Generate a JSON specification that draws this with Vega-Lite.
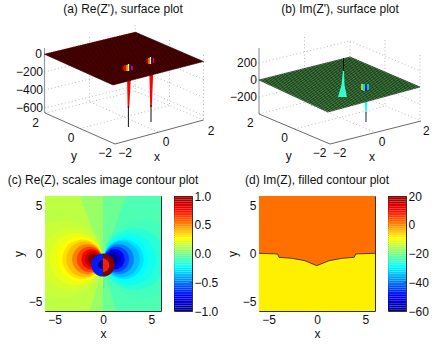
{"$schema":"https://vega.github.io/schema/vega-lite/v6.json","autosize":{"type":"none"},"padding":{"left":45,"top":25,"right":391,"bottom":322},"background":"white","bounds":"flush","columns":5,"spacing":{"row":46,"column":13},"resolve":{"scale":{"color":"independent","size":"independent","radius":"independent"}},"config":{"font":"Liberation Sans","view":{"stroke":null},"axis":{"labelFont":"Liberation Sans","labelFontSize":12,"labelColor":"#111","titleFont":"Liberation Sans","titleFontSize":12,"titleFontWeight":"normal","titleColor":"#111","grid":false,"domain":false,"tickColor":"#333","tickSize":-3,"labelPadding":6,"titlePadding":3,"labelFlush":false,"labelOverlap":false,"labelBound":false},"title":{"font":"Liberation Sans","fontSize":12,"fontWeight":"normal","color":"#111","offset":9,"anchor":"middle"}},"concat":[{"width":116,"height":125,"title":{"text":"(a) Re(Z'), surface plot","dx":20},"encoding":{"x":{"field":"u","type":"quantitative","axis":null,"scale":{"domain":[45,161],"nice":false,"zero":false}},"y":{"field":"v","type":"quantitative","axis":null,"scale":{"domain":[150,25],"nice":false,"zero":false}}},"layer":[{"mark":{"type":"rule","stroke":"#aaa","strokeWidth":0.8,"strokeDash":[1,2.5]},"data":{"values":[{"u":44.5,"v":72,"u2":135,"v2":50},{"u":44.5,"v":90,"u2":135,"v2":68},{"u":44.5,"v":108,"u2":135,"v2":86},{"u":45,"v":113,"u2":135,"v2":91},{"u":135,"v":50,"u2":203.5,"v2":79.5},{"u":135,"v":68,"u2":203.5,"v2":97.5},{"u":135,"v":86,"u2":203.5,"v2":115.5},{"u":135,"v":91,"u2":203.5,"v2":120},{"u":135,"v":25,"u2":135,"v2":91},{"u":89.5,"v":37,"u2":89.5,"v2":102},{"u":203.5,"v":55,"u2":203.5,"v2":120},{"u":169.5,"v":40,"u2":169.5,"v2":105.5},{"u":90,"v":102,"u2":158,"v2":132},{"u":80,"v":128.5,"u2":169.5,"v2":105.5}]},"encoding":{"x2":{"field":"u2"},"y2":{"field":"v2"}}},{"mark":{"type":"rule","stroke":"#999","strokeWidth":1.2},"data":{"values":[{"u":44.5,"v":48,"u2":44.5,"v2":113}]},"encoding":{"x2":{"field":"u2"},"y2":{"field":"v2"}}},{"mark":{"type":"rule","stroke":"#444","strokeWidth":0.8},"data":{"values":[{"u":45,"v":113,"u2":115,"v2":144},{"u":115,"v":144,"u2":203.5,"v2":120}]},"encoding":{"x2":{"field":"u2"},"y2":{"field":"v2"}}},{"mark":{"type":"area","orient":"horizontal","line":false},"data":{"values":[{"s":"p1","v":75,"uL":127,"uR":131,"l":0.75},{"s":"p1","v":108,"uL":127.7,"uR":129.2,"l":0.75},{"s":"p2","v":70,"uL":149.3,"uR":153.3,"l":0.75},{"s":"p2","v":107,"uL":150.2,"uR":151.8,"l":0.75}]},"encoding":{"x":{"field":"uL","type":"quantitative","axis":null,"scale":{"domain":[45,161],"nice":false,"zero":false}},"x2":{"field":"uR"},"y":{"field":"v","type":"quantitative","axis":null,"scale":{"domain":[150,25],"nice":false,"zero":false}},"detail":{"field":"s"},"color":{"field":"l","type":"quantitative","legend":null,"scale":{"domain":[-1,-0.75,-0.25,0.25,0.75,1],"range":["#00008f","#0000ff","#00ffff","#ffff00","#ff0000","#800000"],"interpolate":"rgb"}}}},{"mark":{"type":"rule","stroke":"#111","strokeWidth":1},"data":{"values":[{"u":128.4,"v":106,"u2":128.4,"v2":127},{"u":151,"v":105,"u2":151,"v2":122}]},"encoding":{"x2":{"field":"u2"},"y2":{"field":"v2"}}},{"mark":{"type":"area","fill":"#a00000"},"data":{"values":[{"u":44,"v":54,"v2":54},{"u":113,"v":37.3,"v2":85},{"u":135,"v":32,"v2":79.3},{"u":203.5,"v":61.5,"v2":61.5}]},"encoding":{"y2":{"field":"v2"}}},{"mark":{"type":"rule","stroke":"#000","strokeWidth":0.5},"data":{"values":[{"u":44.0,"v":54.0,"u2":113.0,"v2":85.0},{"u":46.3,"v":53.5,"u2":115.3,"v2":84.4},{"u":48.6,"v":52.9,"u2":117.5,"v2":83.8},{"u":50.8,"v":52.4,"u2":119.8,"v2":83.2},{"u":53.1,"v":51.8,"u2":122.1,"v2":82.7},{"u":55.4,"v":51.3,"u2":124.3,"v2":82.1},{"u":57.7,"v":50.7,"u2":126.6,"v2":81.5},{"u":59.9,"v":50.2,"u2":128.8,"v2":80.9},{"u":62.2,"v":49.6,"u2":131.1,"v2":80.3},{"u":64.5,"v":49.1,"u2":133.4,"v2":79.7},{"u":66.8,"v":48.5,"u2":135.6,"v2":79.1},{"u":69.0,"v":48.0,"u2":137.9,"v2":78.5},{"u":71.3,"v":47.4,"u2":140.2,"v2":78.0},{"u":73.6,"v":46.9,"u2":142.4,"v2":77.4},{"u":75.9,"v":46.3,"u2":144.7,"v2":76.8},{"u":78.1,"v":45.8,"u2":146.9,"v2":76.2},{"u":80.4,"v":45.2,"u2":149.2,"v2":75.6},{"u":82.7,"v":44.7,"u2":151.5,"v2":75.0},{"u":85.0,"v":44.1,"u2":153.7,"v2":74.4},{"u":87.2,"v":43.6,"u2":156.0,"v2":73.8},{"u":89.5,"v":43.0,"u2":158.3,"v2":73.3},{"u":91.8,"v":42.5,"u2":160.5,"v2":72.7},{"u":94.1,"v":41.9,"u2":162.8,"v2":72.1},{"u":96.3,"v":41.4,"u2":165.0,"v2":71.5},{"u":98.6,"v":40.8,"u2":167.3,"v2":70.9},{"u":100.9,"v":40.3,"u2":169.6,"v2":70.3},{"u":103.2,"v":39.7,"u2":171.8,"v2":69.7},{"u":105.4,"v":39.2,"u2":174.1,"v2":69.1},{"u":107.7,"v":38.6,"u2":176.4,"v2":68.6},{"u":110.0,"v":38.1,"u2":178.6,"v2":68.0},{"u":112.3,"v":37.5,"u2":180.9,"v2":67.4},{"u":114.5,"v":37.0,"u2":183.1,"v2":66.8},{"u":116.8,"v":36.4,"u2":185.4,"v2":66.2},{"u":119.1,"v":35.9,"u2":187.7,"v2":65.6},{"u":121.4,"v":35.3,"u2":189.9,"v2":65.0},{"u":123.6,"v":34.8,"u2":192.2,"v2":64.4},{"u":125.9,"v":34.2,"u2":194.5,"v2":63.9},{"u":128.2,"v":33.7,"u2":196.7,"v2":63.3},{"u":130.5,"v":33.1,"u2":199.0,"v2":62.7},{"u":132.7,"v":32.6,"u2":201.2,"v2":62.1},{"u":135.0,"v":32.0,"u2":203.5,"v2":61.5},{"u":45.7,"v":54.8,"u2":136.7,"v2":32.7},{"u":47.5,"v":55.6,"u2":138.4,"v2":33.5},{"u":49.2,"v":56.3,"u2":140.1,"v2":34.2},{"u":50.9,"v":57.1,"u2":141.9,"v2":35.0},{"u":52.6,"v":57.9,"u2":143.6,"v2":35.7},{"u":54.4,"v":58.7,"u2":145.3,"v2":36.4},{"u":56.1,"v":59.4,"u2":147.0,"v2":37.2},{"u":57.8,"v":60.2,"u2":148.7,"v2":37.9},{"u":59.5,"v":61.0,"u2":150.4,"v2":38.6},{"u":61.3,"v":61.8,"u2":152.1,"v2":39.4},{"u":63.0,"v":62.5,"u2":153.8,"v2":40.1},{"u":64.7,"v":63.3,"u2":155.6,"v2":40.9},{"u":66.4,"v":64.1,"u2":157.3,"v2":41.6},{"u":68.2,"v":64.9,"u2":159.0,"v2":42.3},{"u":69.9,"v":65.6,"u2":160.7,"v2":43.1},{"u":71.6,"v":66.4,"u2":162.4,"v2":43.8},{"u":73.3,"v":67.2,"u2":164.1,"v2":44.5},{"u":75.1,"v":68.0,"u2":165.8,"v2":45.3},{"u":76.8,"v":68.7,"u2":167.5,"v2":46.0},{"u":78.5,"v":69.5,"u2":169.3,"v2":46.8},{"u":80.2,"v":70.3,"u2":171.0,"v2":47.5},{"u":82.0,"v":71.1,"u2":172.7,"v2":48.2},{"u":83.7,"v":71.8,"u2":174.4,"v2":49.0},{"u":85.4,"v":72.6,"u2":176.1,"v2":49.7},{"u":87.1,"v":73.4,"u2":177.8,"v2":50.4},{"u":88.9,"v":74.2,"u2":179.5,"v2":51.2},{"u":90.6,"v":74.9,"u2":181.2,"v2":51.9},{"u":92.3,"v":75.7,"u2":183.0,"v2":52.7},{"u":94.0,"v":76.5,"u2":184.7,"v2":53.4},{"u":95.8,"v":77.3,"u2":186.4,"v2":54.1},{"u":97.5,"v":78.0,"u2":188.1,"v2":54.9},{"u":99.2,"v":78.8,"u2":189.8,"v2":55.6},{"u":100.9,"v":79.6,"u2":191.5,"v2":56.3},{"u":102.7,"v":80.4,"u2":193.2,"v2":57.1},{"u":104.4,"v":81.1,"u2":194.9,"v2":57.8},{"u":106.1,"v":81.9,"u2":196.7,"v2":58.6},{"u":107.8,"v":82.7,"u2":198.4,"v2":59.3},{"u":109.6,"v":83.5,"u2":200.1,"v2":60.0},{"u":111.3,"v":84.2,"u2":201.8,"v2":60.8},{"u":113.0,"v":85.0,"u2":203.5,"v2":61.5}]},"encoding":{"x2":{"field":"u2"},"y2":{"field":"v2"}}},{"mark":{"type":"rule","strokeWidth":1.5},"data":{"values":[{"u":123.5,"v":66,"u2":123.5,"v2":70,"l":0.85},{"u":125,"v":65,"u2":125,"v2":71,"l":0.7},{"u":127,"v":65,"u2":127,"v2":71,"l":0.4},{"u":128.5,"v":64,"u2":128.5,"v2":71,"l":0.25},{"u":130.5,"v":64,"u2":130.5,"v2":71,"l":-0.75},{"u":132,"v":66,"u2":132,"v2":70,"l":0.7},{"u":147.5,"v":59,"u2":147.5,"v2":63,"l":0.85},{"u":149,"v":58,"u2":149,"v2":64,"l":0.5},{"u":150.5,"v":57,"u2":150.5,"v2":64,"l":0.25},{"u":152,"v":56.5,"u2":152,"v2":64,"l":-0.8},{"u":153.5,"v":58,"u2":153.5,"v2":63,"l":0.75}]},"encoding":{"x2":{"field":"u2"},"y2":{"field":"v2"},"color":{"field":"l","type":"quantitative","legend":null,"scale":{"domain":[-1,-0.75,-0.25,0.25,0.75,1],"range":["#00008f","#0000ff","#00ffff","#ffff00","#ff0000","#800000"],"interpolate":"rgb"}}}},{"mark":{"type":"text","font":"Liberation Sans","fontSize":12,"align":"right","baseline":"middle","color":"#111"},"data":{"values":[{"u":42,"v":54,"t":"0"},{"u":43,"v":72,"t":"−200"},{"u":43,"v":90,"t":"−400"},{"u":43,"v":108,"t":"−600"}]},"encoding":{"text":{"field":"t"}}},{"mark":{"type":"text","font":"Liberation Sans","fontSize":12,"align":"center","baseline":"middle","color":"#111"},"data":{"values":[{"u":35.7,"v":122.7,"t":"2"},{"u":71,"v":138,"t":"0"},{"u":105,"v":153.3,"t":"−2"},{"u":125,"v":153.3,"t":"−2"},{"u":166,"v":141.7,"t":"0"},{"u":211,"v":130.7,"t":"2"},{"u":74,"v":155.7,"t":"y"},{"u":157,"v":156.7,"t":"x"}]},"encoding":{"text":{"field":"t"}}}]},{"width":18,"height":125,"data":{"values":[]},"mark":"point","encoding":{}},{"width":41,"height":125,"data":{"values":[]},"mark":"point","encoding":{}},{"width":116,"height":125,"title":{"text":"(b) Im(Z'), surface plot","dx":23},"encoding":{"x":{"field":"u","type":"quantitative","axis":null,"scale":{"domain":[259,375],"nice":false,"zero":false}},"y":{"field":"v","type":"quantitative","axis":null,"scale":{"domain":[150,25],"nice":false,"zero":false}}},"layer":[{"mark":{"type":"rule","stroke":"#aaa","strokeWidth":0.8,"strokeDash":[1,2.5]},"data":{"values":[{"u":259,"v":63,"u2":350,"v2":41},{"u":259,"v":97,"u2":350,"v2":74},{"u":259,"v":114,"u2":350,"v2":91},{"u":350,"v":41,"u2":420,"v2":71},{"u":350,"v":74,"u2":420,"v2":104},{"u":350,"v":91,"u2":421,"v2":121},{"u":350,"v":42,"u2":350,"v2":91},{"u":304.5,"v":37,"u2":304.5,"v2":102.5},{"u":420,"v":55,"u2":420,"v2":121},{"u":385,"v":40,"u2":385,"v2":106},{"u":304.5,"v":102.5,"u2":375.5,"v2":132.5},{"u":294.5,"v":129,"u2":385.5,"v2":106}]},"encoding":{"x2":{"field":"u2"},"y2":{"field":"v2"}}},{"mark":{"type":"rule","stroke":"#999","strokeWidth":1.2},"data":{"values":[{"u":259,"v":48,"u2":259,"v2":114}]},"encoding":{"x2":{"field":"u2"},"y2":{"field":"v2"}}},{"mark":{"type":"rule","stroke":"#444","strokeWidth":0.8},"data":{"values":[{"u":259,"v":114,"u2":330,"v2":144},{"u":330,"v":144,"u2":421,"v2":121}]},"encoding":{"x2":{"field":"u2"},"y2":{"field":"v2"}}},{"mark":{"type":"area","orient":"horizontal"},"data":{"values":[{"s":"p","v":100,"uL":364.5,"uR":367.5,"l":-0.2},{"s":"p","v":113,"uL":365.5,"uR":366.7,"l":-0.2}]},"encoding":{"x":{"field":"uL","type":"quantitative","axis":null,"scale":{"domain":[259,375],"nice":false,"zero":false}},"x2":{"field":"uR"},"y":{"field":"v","type":"quantitative","axis":null,"scale":{"domain":[150,25],"nice":false,"zero":false}},"detail":{"field":"s"},"color":{"field":"l","type":"quantitative","legend":null,"scale":{"domain":[-1,-0.75,-0.25,0.25,0.75,1],"range":["#00008f","#0000ff","#00ffff","#ffff00","#ff0000","#800000"],"interpolate":"rgb"}}}},{"mark":{"type":"rule","stroke":"#223","strokeWidth":1},"data":{"values":[{"u":366,"v":112,"u2":366,"v2":122}]},"encoding":{"x2":{"field":"u2"},"y2":{"field":"v2"}}},{"mark":{"type":"area","fill":"#78f078"},"data":{"values":[{"u":259,"v":80,"v2":80},{"u":328,"v":62.6,"v2":112},{"u":350,"v":57,"v2":106},{"u":420,"v":87,"v2":87}]},"encoding":{"y2":{"field":"v2"}}},{"mark":{"type":"rule","stroke":"#000","strokeWidth":0.55},"data":{"values":[{"u":259.0,"v":80.0,"u2":328.0,"v2":112.0},{"u":261.3,"v":79.4,"u2":330.3,"v2":111.4},{"u":263.6,"v":78.9,"u2":332.6,"v2":110.8},{"u":265.8,"v":78.3,"u2":334.9,"v2":110.1},{"u":268.1,"v":77.7,"u2":337.2,"v2":109.5},{"u":270.4,"v":77.1,"u2":339.5,"v2":108.9},{"u":272.7,"v":76.6,"u2":341.8,"v2":108.3},{"u":274.9,"v":76.0,"u2":344.1,"v2":107.6},{"u":277.2,"v":75.4,"u2":346.4,"v2":107.0},{"u":279.5,"v":74.8,"u2":348.7,"v2":106.4},{"u":281.8,"v":74.3,"u2":351.0,"v2":105.8},{"u":284.0,"v":73.7,"u2":353.3,"v2":105.1},{"u":286.3,"v":73.1,"u2":355.6,"v2":104.5},{"u":288.6,"v":72.5,"u2":357.9,"v2":103.9},{"u":290.9,"v":72.0,"u2":360.2,"v2":103.3},{"u":293.1,"v":71.4,"u2":362.5,"v2":102.6},{"u":295.4,"v":70.8,"u2":364.8,"v2":102.0},{"u":297.7,"v":70.2,"u2":367.1,"v2":101.4},{"u":300.0,"v":69.7,"u2":369.4,"v2":100.8},{"u":302.2,"v":69.1,"u2":371.7,"v2":100.1},{"u":304.5,"v":68.5,"u2":374.0,"v2":99.5},{"u":306.8,"v":67.9,"u2":376.3,"v2":98.9},{"u":309.1,"v":67.4,"u2":378.6,"v2":98.3},{"u":311.3,"v":66.8,"u2":380.9,"v2":97.6},{"u":313.6,"v":66.2,"u2":383.2,"v2":97.0},{"u":315.9,"v":65.6,"u2":385.5,"v2":96.4},{"u":318.2,"v":65.1,"u2":387.8,"v2":95.8},{"u":320.4,"v":64.5,"u2":390.1,"v2":95.1},{"u":322.7,"v":63.9,"u2":392.4,"v2":94.5},{"u":325.0,"v":63.3,"u2":394.7,"v2":93.9},{"u":327.3,"v":62.8,"u2":397.0,"v2":93.3},{"u":329.5,"v":62.2,"u2":399.3,"v2":92.6},{"u":331.8,"v":61.6,"u2":401.6,"v2":92.0},{"u":334.1,"v":61.0,"u2":403.9,"v2":91.4},{"u":336.4,"v":60.5,"u2":406.2,"v2":90.8},{"u":338.6,"v":59.9,"u2":408.5,"v2":90.1},{"u":340.9,"v":59.3,"u2":410.8,"v2":89.5},{"u":343.2,"v":58.7,"u2":413.1,"v2":88.9},{"u":345.5,"v":58.2,"u2":415.4,"v2":88.3},{"u":347.7,"v":57.6,"u2":417.7,"v2":87.6},{"u":350.0,"v":57.0,"u2":420.0,"v2":87.0},{"u":260.7,"v":80.8,"u2":351.8,"v2":57.8},{"u":262.5,"v":81.6,"u2":353.5,"v2":58.5},{"u":264.2,"v":82.4,"u2":355.3,"v2":59.3},{"u":265.9,"v":83.2,"u2":357.0,"v2":60.0},{"u":267.6,"v":84.0,"u2":358.8,"v2":60.8},{"u":269.4,"v":84.8,"u2":360.5,"v2":61.5},{"u":271.1,"v":85.6,"u2":362.3,"v2":62.3},{"u":272.8,"v":86.4,"u2":364.0,"v2":63.0},{"u":274.5,"v":87.2,"u2":365.8,"v2":63.8},{"u":276.3,"v":88.0,"u2":367.5,"v2":64.5},{"u":278.0,"v":88.8,"u2":369.3,"v2":65.3},{"u":279.7,"v":89.6,"u2":371.0,"v2":66.0},{"u":281.4,"v":90.4,"u2":372.8,"v2":66.8},{"u":283.2,"v":91.2,"u2":374.5,"v2":67.5},{"u":284.9,"v":92.0,"u2":376.3,"v2":68.3},{"u":286.6,"v":92.8,"u2":378.0,"v2":69.0},{"u":288.3,"v":93.6,"u2":379.8,"v2":69.8},{"u":290.1,"v":94.4,"u2":381.5,"v2":70.5},{"u":291.8,"v":95.2,"u2":383.3,"v2":71.3},{"u":293.5,"v":96.0,"u2":385.0,"v2":72.0},{"u":295.2,"v":96.8,"u2":386.8,"v2":72.8},{"u":297.0,"v":97.6,"u2":388.5,"v2":73.5},{"u":298.7,"v":98.4,"u2":390.3,"v2":74.3},{"u":300.4,"v":99.2,"u2":392.0,"v2":75.0},{"u":302.1,"v":100.0,"u2":393.8,"v2":75.8},{"u":303.9,"v":100.8,"u2":395.5,"v2":76.5},{"u":305.6,"v":101.6,"u2":397.3,"v2":77.3},{"u":307.3,"v":102.4,"u2":399.0,"v2":78.0},{"u":309.0,"v":103.2,"u2":400.8,"v2":78.8},{"u":310.8,"v":104.0,"u2":402.5,"v2":79.5},{"u":312.5,"v":104.8,"u2":404.3,"v2":80.3},{"u":314.2,"v":105.6,"u2":406.0,"v2":81.0},{"u":315.9,"v":106.4,"u2":407.8,"v2":81.8},{"u":317.7,"v":107.2,"u2":409.5,"v2":82.5},{"u":319.4,"v":108.0,"u2":411.3,"v2":83.3},{"u":321.1,"v":108.8,"u2":413.0,"v2":84.0},{"u":322.8,"v":109.6,"u2":414.8,"v2":84.8},{"u":324.6,"v":110.4,"u2":416.5,"v2":85.5},{"u":326.3,"v":111.2,"u2":418.3,"v2":86.3},{"u":328.0,"v":112.0,"u2":420.0,"v2":87.0},{"u":259.0,"v":80.0,"u2":350.0,"v2":57.0}]},"encoding":{"x2":{"field":"u2"},"y2":{"field":"v2"}}},{"mark":{"type":"area","orient":"horizontal"},"data":{"values":[{"s":"q","v":97,"uL":338,"uR":347,"l":-0.15},{"s":"q","v":85,"uL":341.5,"uR":344.5,"l":-0.15},{"s":"q","v":70,"uL":343,"uR":344,"l":-0.15}]},"encoding":{"x":{"field":"uL","type":"quantitative","axis":null,"scale":{"domain":[259,375],"nice":false,"zero":false}},"x2":{"field":"uR"},"y":{"field":"v","type":"quantitative","axis":null,"scale":{"domain":[150,25],"nice":false,"zero":false}},"detail":{"field":"s"},"color":{"field":"l","type":"quantitative","legend":null,"scale":{"domain":[-1,-0.75,-0.25,0.25,0.75,1],"range":["#00008f","#0000ff","#00ffff","#ffff00","#ff0000","#800000"],"interpolate":"rgb"}}}},{"mark":{"type":"rule","stroke":"#111","strokeWidth":1},"data":{"values":[{"u":343.5,"v":58,"u2":343.5,"v2":71}]},"encoding":{"x2":{"field":"u2"},"y2":{"field":"v2"}}},{"mark":{"type":"rule","strokeWidth":1.5},"data":{"values":[{"u":362,"v":84,"u2":362,"v2":90,"l":0.2},{"u":364,"v":84,"u2":364,"v2":91,"l":-0.25},{"u":366,"v":85,"u2":366,"v2":91,"l":-0.8},{"u":368,"v":84,"u2":368,"v2":90,"l":-0.3}]},"encoding":{"x2":{"field":"u2"},"y2":{"field":"v2"},"color":{"field":"l","type":"quantitative","legend":null,"scale":{"domain":[-1,-0.75,-0.25,0.25,0.75,1],"range":["#00008f","#0000ff","#00ffff","#ffff00","#ff0000","#800000"],"interpolate":"rgb"}}}},{"mark":{"type":"text","font":"Liberation Sans","fontSize":12,"align":"right","baseline":"middle","color":"#111"},"data":{"values":[{"u":257,"v":63,"t":"200"},{"u":257,"v":80,"t":"0"},{"u":257,"v":97,"t":"−200"}]},"encoding":{"text":{"field":"t"}}},{"mark":{"type":"text","font":"Liberation Sans","fontSize":12,"align":"center","baseline":"middle","color":"#111"},"data":{"values":[{"u":250.3,"v":122.7,"t":"2"},{"u":284.7,"v":138,"t":"0"},{"u":319.7,"v":153.3,"t":"−2"},{"u":339.7,"v":153.3,"t":"−2"},{"u":382,"v":141.7,"t":"0"},{"u":426.3,"v":130.7,"t":"2"},{"u":288.7,"v":155.7,"t":"y"},{"u":372,"v":156.7,"t":"x"}]},"encoding":{"text":{"field":"t"}}}]},{"width":18,"height":125,"data":{"values":[]},"mark":"point","encoding":{}},{"width":116,"height":115,"title":"(c) Re(Z), scales image contour plot","view":{"stroke":"#333"},"encoding":{"x":{"field":"x","type":"quantitative","title":"x","axis":{"values":[-5,0,5]},"scale":{"domain":[-6,6],"nice":false}},"y":{"field":"y","type":"quantitative","title":"y","axis":{"values":[-5,0,5]},"scale":{"domain":[-6,6],"nice":false}},"color":{"field":"l","type":"quantitative","legend":null,"scale":{"domain":[-1,-0.75,-0.25,0.25,0.75,1],"range":["#00008f","#0000ff","#00ffff","#ffff00","#ff0000","#800000"],"interpolate":"rgb"}}},"layer":[{"mark":"rect","data":{"values":[{"x":-6,"x2":0,"y":-6,"y2":6,"l":0.12},{"x":0,"x2":6,"y":-6,"y2":6,"l":-0.1}]},"encoding":{"x2":{"field":"x2"},"y2":{"field":"y2"}}},{"mark":{"type":"area"},"data":{"values":[{"w":"a","x":-2.4,"y":6,"y2":6,"l":0.05},{"w":"a","x":0,"y":6,"y2":-0.6,"l":0.05},{"w":"b","x":0,"y":6,"y2":-0.6,"l":-0.04},{"w":"b","x":2.4,"y":6,"y2":6,"l":-0.04},{"w":"c","x":-1.4,"y":-6,"y2":-6,"l":0.05},{"w":"c","x":0,"y":-6,"y2":-1.6,"l":0.05},{"w":"d","x":0,"y":-6,"y2":-1.6,"l":-0.04},{"w":"d","x":1.4,"y":-6,"y2":-6,"l":-0.04}]},"encoding":{"y2":{"field":"y2"},"detail":{"field":"w"}}},{"mark":{"type":"circle","clip":true,"opacity":1,"stroke":null},"data":{"values":[{"x":-5.1,"y":-0.6,"a":25,"l":0.12},{"x":5.1,"y":-0.6,"a":25,"l":-0.1},{"x":-4.1,"y":-0.6,"a":16,"l":0.14},{"x":4.1,"y":-0.6,"a":16,"l":-0.12},{"x":-3.3,"y":-0.6,"a":10.24,"l":0.17},{"x":3.3,"y":-0.6,"a":10.24,"l":-0.17},{"x":-2.8,"y":-0.6,"a":7.29,"l":0.21},{"x":2.8,"y":-0.6,"a":7.29,"l":-0.21},{"x":-2.4,"y":-0.6,"a":5.29,"l":0.25},{"x":2.4,"y":-0.6,"a":5.29,"l":-0.25},{"x":-2.15,"y":-0.6,"a":4.2,"l":0.31},{"x":2.15,"y":-0.6,"a":4.2,"l":-0.31},{"x":-1.95,"y":-0.6,"a":3.42,"l":0.38},{"x":1.95,"y":-0.6,"a":3.42,"l":-0.38},{"x":-1.65,"y":-0.6,"a":2.4,"l":0.5},{"x":1.65,"y":-0.6,"a":2.4,"l":-0.5},{"x":-1.4,"y":-0.6,"a":1.69,"l":0.62},{"x":1.4,"y":-0.6,"a":1.69,"l":-0.62},{"x":-1.2,"y":-0.6,"a":1.1,"l":0.75},{"x":1.2,"y":-0.6,"a":1.1,"l":-0.75},{"x":-1.08,"y":-0.6,"a":0.67,"l":0.88},{"x":1.08,"y":-0.6,"a":0.67,"l":-0.88},{"x":-1,"y":-0.6,"a":0.3025,"l":1},{"x":1,"y":-0.6,"a":0.3025,"l":-1}]},"encoding":{"size":{"field":"a","type":"quantitative","legend":null,"scale":{"domain":[0,1],"range":[0,374]}}}},{"mark":{"type":"rule","strokeWidth":1},"data":{"values":[{"x":-0.1,"y":-1.8,"y2":-3.6,"l":0.25},{"x":0.1,"y":-1.8,"y2":-3.6,"l":-0.2}]},"encoding":{"y2":{"field":"y2"}}},{"mark":{"type":"arc","theta":0,"theta2":3.14159},"data":{"values":[{"x":0,"y":-1.2,"r":0.68,"l":0.7},{"x":0,"y":-1.2,"r":0.52,"l":1}]},"encoding":{"radius":{"field":"r","type":"quantitative","scale":{"domain":[0,1],"range":[0,9.67]}}}},{"mark":{"type":"arc","theta":3.14159,"theta2":6.28318},"data":{"values":[{"x":0,"y":-1.2,"r":0.68,"l":-0.7},{"x":0,"y":-1.2,"r":0.52,"l":-1}]},"encoding":{"radius":{"field":"r","type":"quantitative","scale":{"domain":[0,1],"range":[0,9.67]}}}}]},{"width":18,"height":115,"view":{"stroke":"#333"},"data":{"values":[{"lo":-1,"hi":-0.969},{"lo":-0.969,"hi":-0.938},{"lo":-0.938,"hi":-0.906},{"lo":-0.906,"hi":-0.875},{"lo":-0.875,"hi":-0.844},{"lo":-0.844,"hi":-0.813},{"lo":-0.813,"hi":-0.781},{"lo":-0.781,"hi":-0.75},{"lo":-0.75,"hi":-0.719},{"lo":-0.719,"hi":-0.688},{"lo":-0.688,"hi":-0.656},{"lo":-0.656,"hi":-0.625},{"lo":-0.625,"hi":-0.594},{"lo":-0.594,"hi":-0.563},{"lo":-0.563,"hi":-0.531},{"lo":-0.531,"hi":-0.5},{"lo":-0.5,"hi":-0.469},{"lo":-0.469,"hi":-0.438},{"lo":-0.438,"hi":-0.406},{"lo":-0.406,"hi":-0.375},{"lo":-0.375,"hi":-0.344},{"lo":-0.344,"hi":-0.313},{"lo":-0.313,"hi":-0.281},{"lo":-0.281,"hi":-0.25},{"lo":-0.25,"hi":-0.219},{"lo":-0.219,"hi":-0.188},{"lo":-0.188,"hi":-0.156},{"lo":-0.156,"hi":-0.125},{"lo":-0.125,"hi":-0.094},{"lo":-0.094,"hi":-0.063},{"lo":-0.063,"hi":-0.031},{"lo":-0.031,"hi":0},{"lo":0,"hi":0.031},{"lo":0.031,"hi":0.063},{"lo":0.063,"hi":0.094},{"lo":0.094,"hi":0.125},{"lo":0.125,"hi":0.156},{"lo":0.156,"hi":0.188},{"lo":0.188,"hi":0.219},{"lo":0.219,"hi":0.25},{"lo":0.25,"hi":0.281},{"lo":0.281,"hi":0.313},{"lo":0.313,"hi":0.344},{"lo":0.344,"hi":0.375},{"lo":0.375,"hi":0.406},{"lo":0.406,"hi":0.438},{"lo":0.438,"hi":0.469},{"lo":0.469,"hi":0.5},{"lo":0.5,"hi":0.531},{"lo":0.531,"hi":0.563},{"lo":0.563,"hi":0.594},{"lo":0.594,"hi":0.625},{"lo":0.625,"hi":0.656},{"lo":0.656,"hi":0.688},{"lo":0.688,"hi":0.719},{"lo":0.719,"hi":0.75},{"lo":0.75,"hi":0.781},{"lo":0.781,"hi":0.813},{"lo":0.813,"hi":0.844},{"lo":0.844,"hi":0.875},{"lo":0.875,"hi":0.906},{"lo":0.906,"hi":0.938},{"lo":0.938,"hi":0.969},{"lo":0.969,"hi":1}]},"mark":"rect","encoding":{"y":{"field":"lo","type":"quantitative","title":null,"axis":{"orient":"right","values":[-1,-0.5,0,0.5,1],"labelPadding":5},"scale":{"domain":[-1,1],"nice":false}},"y2":{"field":"hi"},"color":{"field":"lo","type":"quantitative","legend":null,"scale":{"domain":[-1,-0.75,-0.25,0.25,0.75,1],"range":["#00008f","#0000ff","#00ffff","#ffff00","#ff0000","#800000"],"interpolate":"rgb"}}}},{"width":41,"height":115,"data":{"values":[]},"mark":"point","encoding":{}},{"width":116,"height":115,"title":"(d) Im(Z), filled contour plot","view":{"stroke":"#333"},"encoding":{"x":{"field":"x","type":"quantitative","title":"x","axis":{"values":[-5,0,5]},"scale":{"domain":[-6,6],"nice":false}},"y":{"field":"y","type":"quantitative","title":"y","axis":{"values":[-5,0,5]},"scale":{"domain":[-6,6],"nice":false}}},"layer":[{"mark":{"type":"rect","fill":"#fff000"},"data":{"values":[{"x":-6,"x2":6,"y":-6,"y2":6}]},"encoding":{"x2":{"field":"x2"},"y2":{"field":"y2"}}},{"mark":{"type":"area","fill":"#ff7000"},"data":{"values":[{"x":-6,"y":0.02,"y2":6},{"x":-4.07,"y":-0.05,"y2":6},{"x":-3.93,"y":-0.4,"y2":6},{"x":-2.6,"y":-0.5,"y2":6},{"x":-1.24,"y":-0.75,"y2":6},{"x":-0.03,"y":-1.27,"y2":6},{"x":1.24,"y":-0.75,"y2":6},{"x":2.6,"y":-0.5,"y2":6},{"x":3.85,"y":-0.4,"y2":6},{"x":4.0,"y":-0.05,"y2":6},{"x":6,"y":0.02,"y2":6}]},"encoding":{"y2":{"field":"y2"}}},{"mark":{"type":"line","stroke":"#222","strokeWidth":0.8},"data":{"values":[{"x":-6,"y":0.02},{"x":-4.07,"y":-0.05},{"x":-3.93,"y":-0.4},{"x":-2.6,"y":-0.5},{"x":-1.24,"y":-0.75},{"x":-0.03,"y":-1.27},{"x":1.24,"y":-0.75},{"x":2.6,"y":-0.5},{"x":3.85,"y":-0.4},{"x":4.0,"y":-0.05},{"x":6,"y":0.02}]},"encoding":{}}]},{"width":18,"height":115,"view":{"stroke":"#333"},"data":{"values":[{"lo":-60,"hi":-58.75},{"lo":-58.75,"hi":-57.5},{"lo":-57.5,"hi":-56.25},{"lo":-56.25,"hi":-55},{"lo":-55,"hi":-53.75},{"lo":-53.75,"hi":-52.5},{"lo":-52.5,"hi":-51.25},{"lo":-51.25,"hi":-50},{"lo":-50,"hi":-48.75},{"lo":-48.75,"hi":-47.5},{"lo":-47.5,"hi":-46.25},{"lo":-46.25,"hi":-45},{"lo":-45,"hi":-43.75},{"lo":-43.75,"hi":-42.5},{"lo":-42.5,"hi":-41.25},{"lo":-41.25,"hi":-40},{"lo":-40,"hi":-38.75},{"lo":-38.75,"hi":-37.5},{"lo":-37.5,"hi":-36.25},{"lo":-36.25,"hi":-35},{"lo":-35,"hi":-33.75},{"lo":-33.75,"hi":-32.5},{"lo":-32.5,"hi":-31.25},{"lo":-31.25,"hi":-30},{"lo":-30,"hi":-28.75},{"lo":-28.75,"hi":-27.5},{"lo":-27.5,"hi":-26.25},{"lo":-26.25,"hi":-25},{"lo":-25,"hi":-23.75},{"lo":-23.75,"hi":-22.5},{"lo":-22.5,"hi":-21.25},{"lo":-21.25,"hi":-20},{"lo":-20,"hi":-18.75},{"lo":-18.75,"hi":-17.5},{"lo":-17.5,"hi":-16.25},{"lo":-16.25,"hi":-15},{"lo":-15,"hi":-13.75},{"lo":-13.75,"hi":-12.5},{"lo":-12.5,"hi":-11.25},{"lo":-11.25,"hi":-10},{"lo":-10,"hi":-8.75},{"lo":-8.75,"hi":-7.5},{"lo":-7.5,"hi":-6.25},{"lo":-6.25,"hi":-5},{"lo":-5,"hi":-3.75},{"lo":-3.75,"hi":-2.5},{"lo":-2.5,"hi":-1.25},{"lo":-1.25,"hi":0},{"lo":0,"hi":1.25},{"lo":1.25,"hi":2.5},{"lo":2.5,"hi":3.75},{"lo":3.75,"hi":5},{"lo":5,"hi":6.25},{"lo":6.25,"hi":7.5},{"lo":7.5,"hi":8.75},{"lo":8.75,"hi":10},{"lo":10,"hi":11.25},{"lo":11.25,"hi":12.5},{"lo":12.5,"hi":13.75},{"lo":13.75,"hi":15},{"lo":15,"hi":16.25},{"lo":16.25,"hi":17.5},{"lo":17.5,"hi":18.75},{"lo":18.75,"hi":20}]},"mark":"rect","encoding":{"y":{"field":"lo","type":"quantitative","title":null,"axis":{"orient":"right","values":[-60,-40,-20,0,20],"labelPadding":5},"scale":{"domain":[-60,20],"nice":false}},"y2":{"field":"hi"},"color":{"field":"lo","type":"quantitative","legend":null,"scale":{"domain":[-60,-50,-30,-10,10,20],"range":["#00008f","#0000ff","#00ffff","#ffff00","#ff0000","#800000"],"interpolate":"rgb"}}}}]}
